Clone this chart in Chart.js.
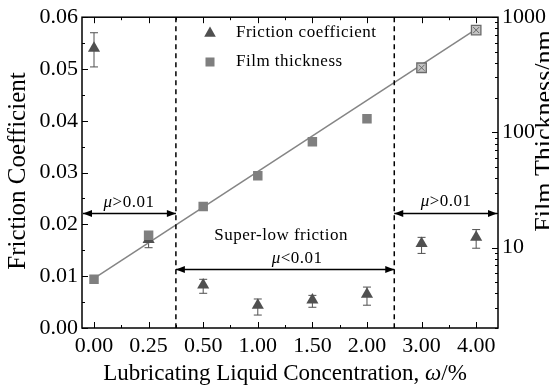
<!DOCTYPE html>
<html>
<head>
<meta charset="utf-8">
<script src="https://cdn.jsdelivr.net/npm/chart.js@4.4.1/dist/chart.umd.min.js"></script>
<style>
  html, body { margin: 0; padding: 0; background: #fff; }
</style>
</head>
<body>
<canvas id="chart" width="549" height="389"></canvas>
<script>
// Concentración del líquido lubricante (categorías, %)
const concentrations = ['0.00', '0.25', '0.50', '1.00', '1.50', '2.00', '3.00', '4.00'];
// Coeficiente de fricción y barras de error
const friction     = [0.0540, 0.0171, 0.0083, 0.0044, 0.0054, 0.0065, 0.0163, 0.0175];
const frictionLow  = [0.0504, 0.0155, 0.0067, 0.0025, 0.0040, 0.0044, 0.0144, 0.0154];
const frictionHigh = [0.0570, 0.0186, 0.0094, 0.0056, 0.0063, 0.0079, 0.0175, 0.0190];
// Espesor de película (nm)
const filmThickness = [5.3, 12.8, 22.7, 42, 83, 131, 364, 773];
// Recta de ajuste (extremos en 0.00 y 4.00)
const fitLine = [5.4, 787];
// Marcas de los ejes
const frictionTicks = [0, 0.01, 0.02, 0.03, 0.04, 0.05, 0.06];
const thicknessTicks = [10, 100, 1000];

const FONT = "'Liberation Serif', 'Times New Roman', serif";
const TRI = '#505050';
const SQ = '#7f7f7f';

function mixed(ctx, parts, cx, cy, size, base) {
    // texto con partes en cursiva, centrado
    let w = 0;
    parts.forEach(p => {
        ctx.font = (p.it ? 'italic ' : '') + size + 'px ' + FONT;
        p.w = ctx.measureText(p.t).width;
        w += p.w;
    });
    let x = cx - w / 2;
    ctx.textAlign = 'left';
    ctx.textBaseline = base || 'middle';
    parts.forEach(p => {
        ctx.font = (p.it ? 'italic ' : '') + size + 'px ' + FONT;
        ctx.fillText(p.t, x, cy);
        x += p.w;
    });
}

function arrow(ctx, x1, x2, y) {
    ctx.beginPath();
    ctx.moveTo(x1, y); ctx.lineTo(x2, y);
    ctx.stroke();
    [[x1, 1], [x2, -1]].forEach(([x, d]) => {
        ctx.beginPath();
        ctx.moveTo(x, y);
        ctx.lineTo(x + d * 9, y - 3.5);
        ctx.lineTo(x + d * 9, y + 3.5);
        ctx.closePath();
        ctx.fill();
    });
}

const decor = {
    id: 'decor',
    beforeDatasetsDraw(chart) {
        const { ctx, scales: { x, y } } = chart;
        ctx.save();
        ctx.strokeStyle = TRI;
        ctx.lineWidth = 1;
        friction.forEach((v, i) => {
            const px = x.getPixelForValue(i);
            const t = y.getPixelForValue(frictionHigh[i]);
            const b = y.getPixelForValue(frictionLow[i]);
            ctx.beginPath();
            ctx.moveTo(px, t); ctx.lineTo(px, b);
            ctx.moveTo(px - 4, t); ctx.lineTo(px + 4, t);
            ctx.moveTo(px - 4, b); ctx.lineTo(px + 4, b);
            ctx.stroke();
        });
        ctx.restore();
    },
    afterDatasetsDraw(chart) {
        // cruz en los cuadrados huecos
        const { ctx } = chart;
        const meta = chart.getDatasetMeta(1);
        ctx.save();
        ctx.strokeStyle = '#6a6a6a';
        ctx.lineWidth = 1;
        meta.data.forEach((p, i) => {
            if (i < 6) return;
            ctx.beginPath();
            ctx.moveTo(p.x - 3, p.y - 3); ctx.lineTo(p.x + 3, p.y + 3);
            ctx.moveTo(p.x + 3, p.y - 3); ctx.lineTo(p.x - 3, p.y + 3);
            ctx.stroke();
        });
        ctx.restore();
    },
    afterDraw(chart) {
        const { ctx, chartArea: a, scales: { x, y, y1 } } = chart;
        ctx.save();
        ctx.strokeStyle = '#000';
        ctx.fillStyle = '#000';

        // marco
        ctx.lineWidth = 1.5;
        ctx.strokeRect(a.left, a.top, a.right - a.left, a.bottom - a.top);

        // marcas hacia dentro
        ctx.lineWidth = 1;
        ctx.beginPath();
        for (let v = 0; v <= 0.0601; v += 0.005) {
            const py = Math.round(y.getPixelForValue(v)) + 0.5;
            const len = Math.abs(v / 0.01 - Math.round(v / 0.01)) < 1e-6 ? 6 : 3;
            ctx.moveTo(a.left, py); ctx.lineTo(a.left + len, py);
        }
        for (let i = 0; i <= 7; i += 0.5) {
            const px = Math.round(x.getPixelForValue(i)) + 0.5;
            const len = Number.isInteger(i) ? 6 : 3;
            ctx.moveTo(px, a.bottom); ctx.lineTo(px, a.bottom - len);
            ctx.moveTo(px, a.top); ctx.lineTo(px, a.top + len);
        }
        [1, 10, 100].forEach(dec => {
            for (let m = 1; m <= 10; m++) {
                const v = m * dec;
                if (v < 2 || v > 1000) continue;
                const py = Math.round(y1.getPixelForValue(v)) + 0.5;
                const len = (m === 1 || m === 10) ? 6 : 3;
                ctx.moveTo(a.right, py); ctx.lineTo(a.right - len, py);
            }
        });
        ctx.stroke();

        // líneas discontinuas
        const xa = x.getPixelForValue(1.5), xb = x.getPixelForValue(5.5);
        ctx.lineWidth = 1.5;
        ctx.setLineDash([5, 4]);
        ctx.beginPath();
        ctx.moveTo(xa, a.top); ctx.lineTo(xa, a.bottom);
        ctx.moveTo(xb, a.top); ctx.lineTo(xb, a.bottom);
        ctx.stroke();
        ctx.setLineDash([]);

        // flechas y rótulos
        ctx.lineWidth = 1.5;
        const yHigh = y.getPixelForValue(0.0221);
        const yLow = y.getPixelForValue(0.0113);
        arrow(ctx, a.left + 1, xa, yHigh);
        arrow(ctx, xa, xb, yLow);
        arrow(ctx, xb, a.right - 1, yHigh);
        ctx.letterSpacing = '0.5px';
        mixed(ctx, [{ t: 'μ', it: true }, { t: '>0.01' }], (a.left + xa) / 2, yHigh - 11, 17);
        mixed(ctx, [{ t: 'μ', it: true }, { t: '>0.01' }], (xb + a.right) / 2, yHigh - 12, 17);
        mixed(ctx, [{ t: 'Super-low friction' }], (xa + xb) / 2 - 4, yLow - 34, 17);
        mixed(ctx, [{ t: 'μ', it: true }, { t: '<0.01' }], (xa + xb) / 2 + 12, yLow - 11, 17);

        // leyenda
        ctx.fillStyle = TRI;
        ctx.beginPath();
        ctx.moveTo(210, 33 - 6.5);
        ctx.lineTo(210 + 5.8, 33 + 3.8);
        ctx.lineTo(210 - 5.8, 33 + 3.8);
        ctx.closePath();
        ctx.fill();
        ctx.fillStyle = SQ;
        ctx.fillRect(205.5, 57.5, 9, 9);
        ctx.fillStyle = '#000';
        ctx.font = '17px ' + FONT;
        ctx.textAlign = 'left';
        ctx.textBaseline = 'middle';
        ctx.fillText('Friction coefficient', 236, 33);
        ctx.fillText('Film thickness', 236, 62);
        ctx.letterSpacing = '0px';

        // títulos de ejes
        mixed(ctx, [{ t: 'Lubricating Liquid Concentration, ' }, { t: 'ω', it: true }, { t: '/%' }], 285, 380, 23, 'alphabetic');
        ctx.save();
        ctx.translate(25, 171);
        ctx.rotate(-Math.PI / 2);
        mixed(ctx, [{ t: 'Friction Coefficient' }], 0, 0, 25, 'alphabetic');
        ctx.restore();
        ctx.save();
        ctx.translate(552, 131);
        ctx.rotate(-Math.PI / 2);
        mixed(ctx, [{ t: 'Film Thickness/nm' }], 0, 0, 26, 'alphabetic');
        ctx.restore();

        ctx.restore();
    }
};

new Chart(document.getElementById('chart').getContext('2d'), {
    type: 'scatter',
    data: {
        datasets: [
            {
                label: 'Friction coefficient',
                data: friction.map((v, i) => ({ x: i, y: v })),
                yAxisID: 'y',
                pointStyle: 'triangle',
                pointRadius: 7,
                pointBackgroundColor: TRI,
                pointBorderWidth: 0,
                order: 2
            },
            {
                label: 'Film thickness',
                data: filmThickness.map((v, i) => ({ x: i, y: v })),
                yAxisID: 'y1',
                pointStyle: 'rect',
                pointRadius: 6.7,
                pointBackgroundColor: ctx => ctx.dataIndex >= 6 ? '#c4c4c4' : SQ,
                pointBorderColor: '#6a6a6a',
                pointBorderWidth: ctx => ctx.dataIndex >= 6 ? 1.3 : 0,
                order: 1
            },
            {
                label: 'fit',
                data: [{ x: 0, y: fitLine[0] }, { x: 7, y: fitLine[1] }],
                yAxisID: 'y1',
                showLine: true,
                borderColor: '#858585',
                borderWidth: 1.5,
                pointRadius: 0,
                order: 3
            }
        ]
    },
    options: {
        responsive: false,
        animation: false,
        layout: { padding: { top: 16, left: 0, right: 0, bottom: 0 } },
        plugins: { legend: { display: false }, tooltip: { enabled: false } },
        scales: {
            x: {
                type: 'linear',
                min: -0.22,
                max: 7.4,
                grid: { display: false, drawTicks: false },
                border: { display: false },
                afterBuildTicks: s => { s.ticks = concentrations.map((c, i) => ({ value: i })); },
                afterFit: s => { s.height = 61; },
                ticks: {
                    autoSkip: false,
                    maxRotation: 0,
                    padding: 5,
                    color: '#000',
                    font: { family: FONT, size: 22 },
                    callback: v => concentrations[v]
                }
            },
            y: {
                position: 'left',
                min: 0,
                max: 0.06,
                grid: { display: false, drawTicks: false },
                border: { display: false },
                afterBuildTicks: s => { s.ticks = frictionTicks.map(v => ({ value: v })); },
                afterFit: s => { s.width = 82; },
                ticks: {
                    padding: 4,
                    color: '#000',
                    font: { family: FONT, size: 22 },
                    callback: v => v.toFixed(2)
                }
            },
            y1: {
                type: 'logarithmic',
                position: 'right',
                min: 2,
                max: 1000,
                grid: { display: false, drawTicks: false },
                border: { display: false },
                afterBuildTicks: s => { s.ticks = thicknessTicks.map(v => ({ value: v })); },
                afterFit: s => { s.width = 51; },
                ticks: {
                    padding: 4,
                    color: '#000',
                    font: { family: FONT, size: 22 },
                    callback: v => String(v)
                }
            }
        }
    },
    plugins: [decor]
});
</script>
</body>
</html>
